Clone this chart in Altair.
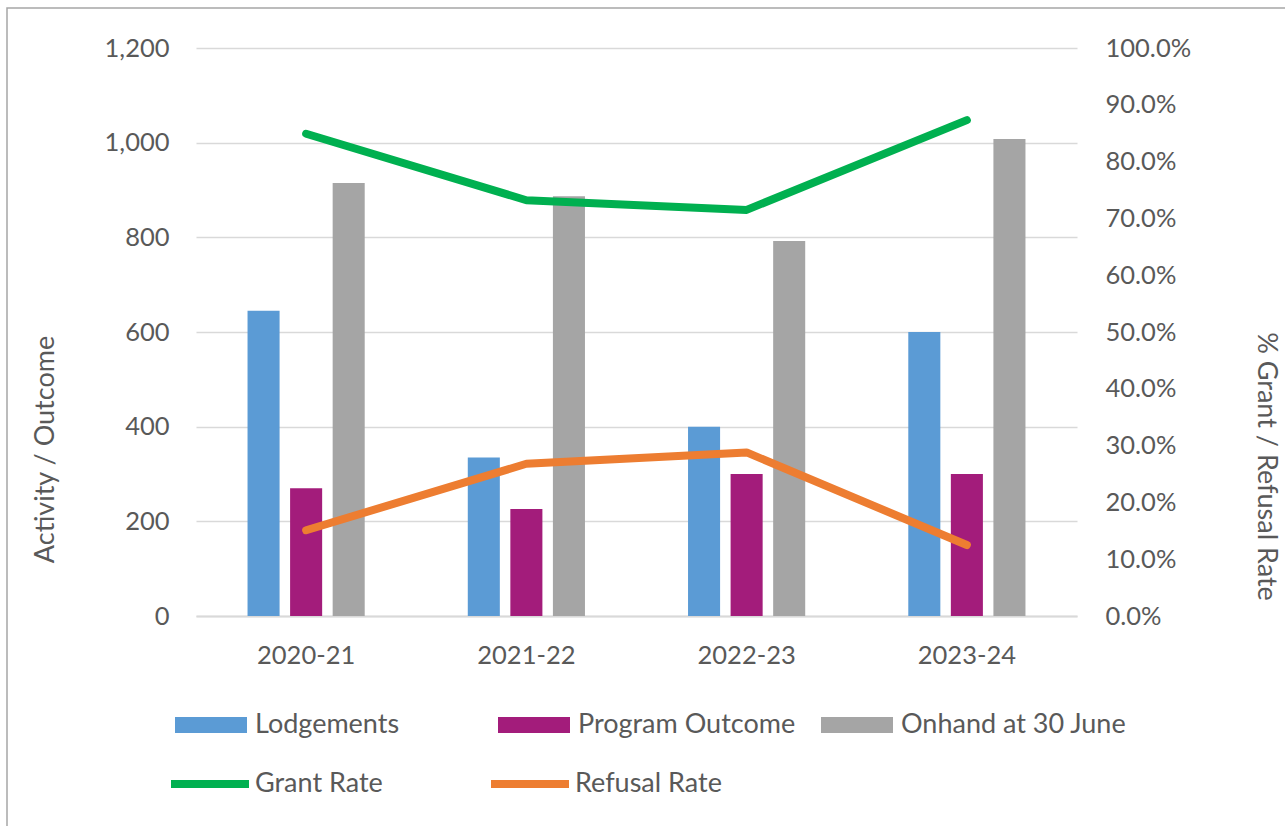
import altair as alt
import pandas as pd

# Financial years and series values
years = ["2020-21", "2021-22", "2022-23", "2023-24"]
lodgements = [645, 335, 400, 600]
program_outcome = [270, 226, 300, 300]
onhand = [915, 887, 792, 1008]
grant_rate = [0.849, 0.732, 0.715, 0.873]
refusal_rate = [0.151, 0.268, 0.288, 0.125]

bar_series = ["Lodgements", "Program Outcome", "Onhand at 30 June"]
bar_colors = ["#5b9bd5", "#a31c7b", "#a5a5a5"]
line_series = ["Grant Rate", "Refusal Rate"]
line_colors = ["#00b050", "#ed7d31"]

left_ticks = [0, 200, 400, 600, 800, 1000, 1200]
right_ticks = [i / 10 for i in range(11)]

FONT = "Lato"
TEXT = "#595959"
GRID = "#d9d9d9"
FS = 25.5
FS_TITLE = 27
FS_LEGEND = 27

bar_rows = []
for name, vals in zip(bar_series, [lodgements, program_outcome, onhand]):
    for yr, v in zip(years, vals):
        bar_rows.append({"year": yr, "series": name, "value": v})
bars_df = pd.DataFrame(bar_rows)

line_rows = []
for name, vals in zip(line_series, [grant_rate, refusal_rate]):
    for yr, v in zip(years, vals):
        line_rows.append({"year": yr, "series": name, "rate": v})
lines_df = pd.DataFrame(line_rows)

x_enc = alt.X(
    "year:N",
    sort=years,
    title=None,
    scale=alt.Scale(paddingInner=0.468, paddingOuter=0.234),
    axis=alt.Axis(
        labelAngle=0,
        labelPadding=27,
        ticks=False,
        domainColor=GRID,
        domainWidth=2,
        grid=False,
    ),
)

bars = alt.Chart(bars_df).mark_bar().encode(
    x=x_enc,
    xOffset=alt.XOffset(
        "series:N", sort=bar_series,
        scale=alt.Scale(domain=bar_series, paddingInner=0.247, paddingOuter=0),
    ),
    y=alt.Y(
        "value:Q",
        scale=alt.Scale(domain=[0, 1200], nice=False),
        axis=alt.Axis(
            orient="left",
            values=left_ticks,
            format=",d",
            title="Activity / Outcome",
            titleAngle=270,
            titleAlign="center",
            titleBaseline="middle",
            titleX=-151,
            titleY=401,
            labelPadding=27,
            ticks=False,
            domain=False,
            grid=True,
            gridColor=GRID,
            gridWidth=1.5,
        ),
    ),
    fill=alt.Fill(
        "series:N",
        sort=bar_series,
        scale=alt.Scale(domain=bar_series, range=bar_colors),
        legend=alt.Legend(
            title=None,
            orient="none",
            legendX=-21,
            legendY=641,
            direction="horizontal",
            columns=3,
            gridAlign="all",
            columnPadding=17,
            symbolType="M-1,-0.222H1V0.222H-1Z",
            symbolSize=5184,
            symbolStrokeWidth=0,
            labelOffset=8,
        ),
    ),
)

lines = alt.Chart(lines_df).mark_line(strokeWidth=8, strokeCap="round", strokeJoin="round").encode(
    x=x_enc,
    y=alt.Y(
        "rate:Q",
        scale=alt.Scale(domain=[0, 1], nice=False),
        axis=alt.Axis(
            orient="right",
            values=right_ticks,
            format=".1%",
            title="% Grant / Refusal Rate",
            titleAngle=90,
            titleAlign="center",
            titleBaseline="middle",
            titleX=188,
            titleY=418,
            labelPadding=28,
            ticks=False,
            domain=False,
            grid=False,
        ),
    ),
    stroke=alt.Stroke(
        "series:N",
        sort=line_series,
        scale=alt.Scale(domain=line_series, range=line_colors),
        legend=alt.Legend(
            title=None,
            orient="none",
            legendX=-29,
            legendY=693,
            direction="horizontal",
            columns=2,
            gridAlign="all",
            columnPadding=73,
            symbolType="stroke",
            symbolSize=6084,
            symbolStrokeWidth=8,
            labelOffset=2,
        ),
    ),
    detail="series:N",
)

# Outer chart frame
frame = alt.Chart(pd.DataFrame({"k": [0]})).mark_rect(
    fill="transparent", stroke="#a6a6a6", strokeWidth=1.5
).encode(
    x=alt.value(-189), x2=alt.value(1200), y=alt.value(-40), y2=alt.value(900)
)

chart = (
    alt.layer(frame, bars, lines)
    .resolve_scale(y="independent", fill="independent", stroke="independent")
    .properties(
        width=881,
        height=568,
        autosize=alt.AutoSizeParams(type="none"),
        padding={"left": 196, "top": 48, "right": 208, "bottom": 210},
        background="white",
    )
    .configure_view(stroke=None)
    .configure_axis(
        labelFont=FONT,
        labelFontSize=FS,
        labelColor=TEXT,
        titleFont=FONT,
        titleFontSize=FS_TITLE,
        titleColor=TEXT,
        titleFontWeight="normal",
    )
    .configure_legend(
        labelFont=FONT,
        labelFontSize=FS_LEGEND,
        labelColor=TEXT,
        padding=0,
        labelLimit=400,
    )
)

chart.save("out.html", embed_options={"renderer": "svg", "actions": False})
